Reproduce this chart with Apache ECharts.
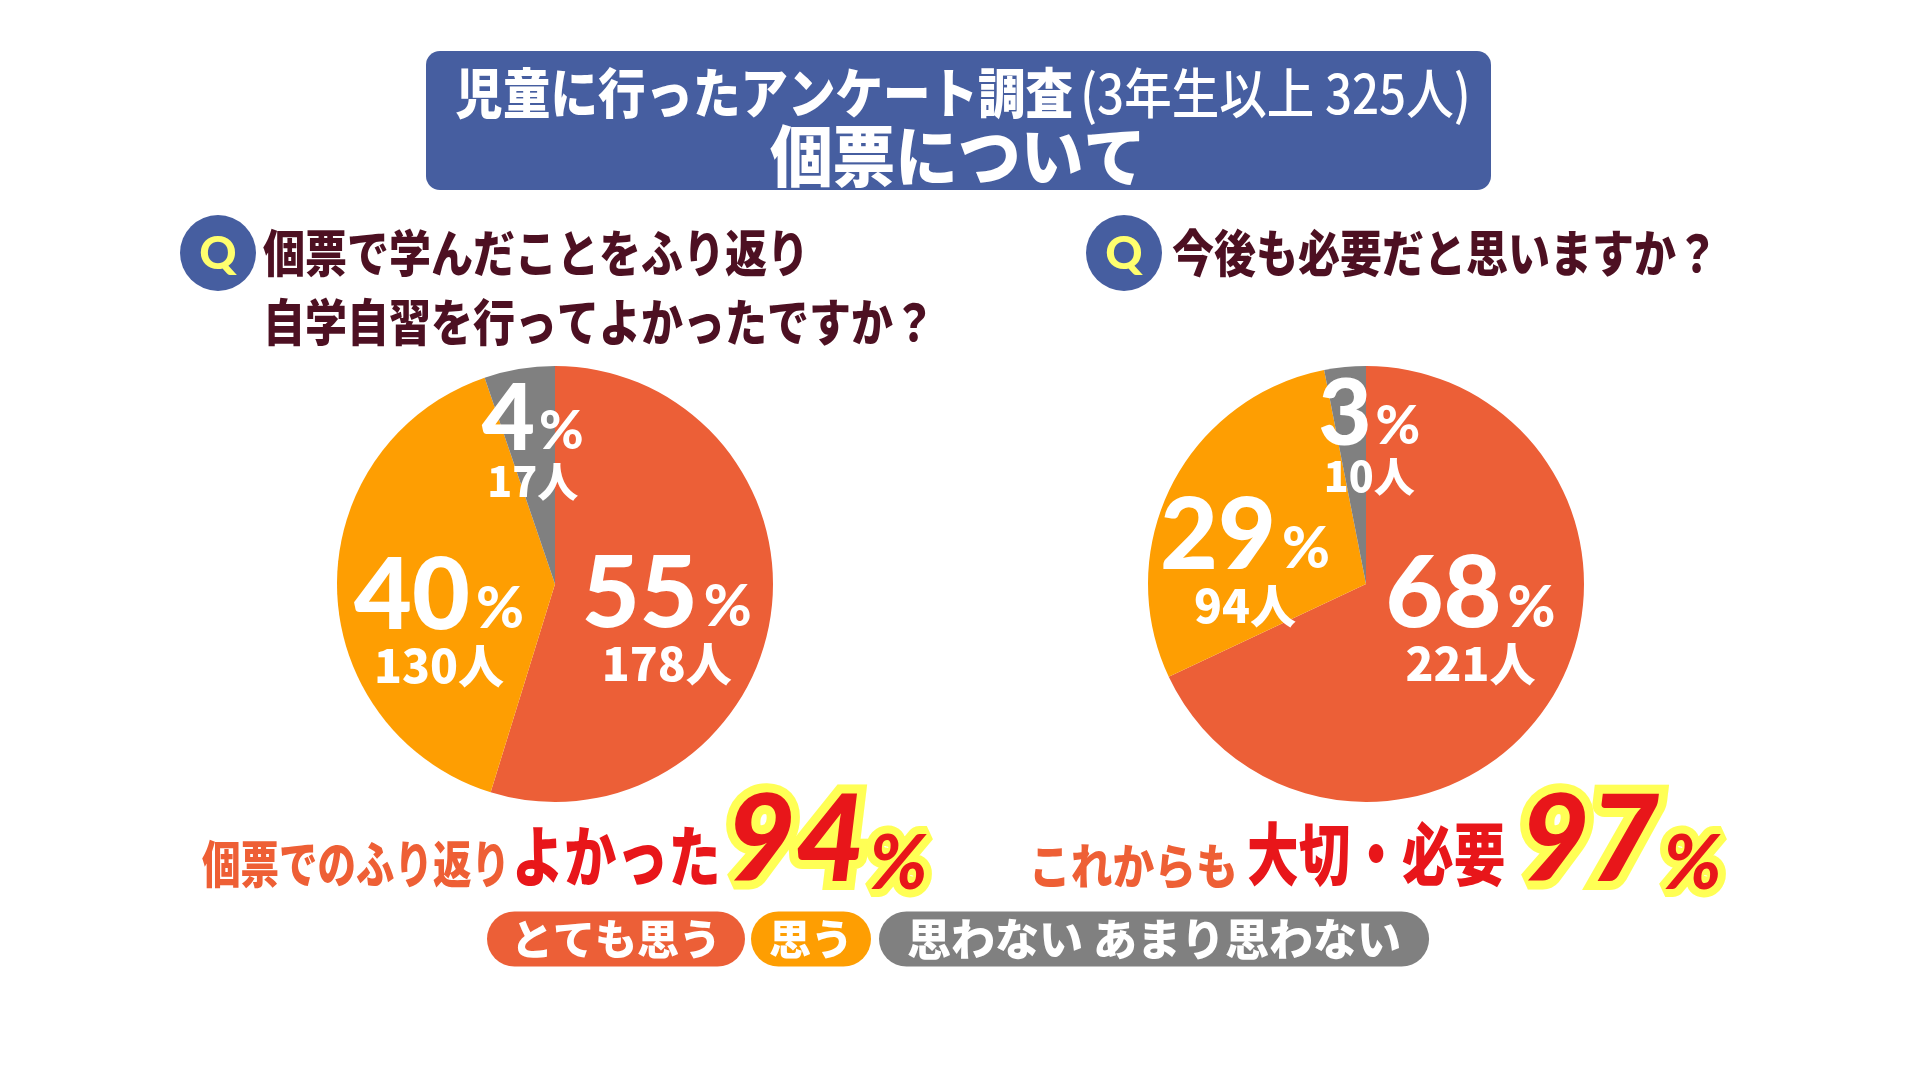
<!DOCTYPE html>
<html><head><meta charset="utf-8">
<script src="https://cdn.jsdelivr.net/npm/echarts@6/dist/echarts.min.js"></script>
<style>html,body{margin:0;padding:0;background:#fff;}#c{width:1920px;height:1080px;}</style>
</head><body><div id="c"></div>
<script>
// ---- data ----
const categories = ['とても思う', '思う', '思わない あまり思わない'];
const colors = ['#EC5F37', '#FE9E02', '#808080'];
const leftCounts = [178, 130, 17];
const leftPct = [55, 40, 4];
const rightCounts = [221, 94, 10];
const rightPct = [68, 29, 3];
const leftSummaryPct = 94;
const rightSummaryPct = 97;
const titleMain = '児童に行ったアンケート調査';
const titleSub = '(3年生以上 325人)';
const titleLine2 = '個票について';
const q1Lines = ['個票で学んだことをふり返り', '自学自習を行ってよかったですか？'];
const q2Lines = ['今後も必要だと思いますか？'];
const leftSumA = '個票でのふり返り';
const leftSumB = 'よかった';
const rightSumA = 'これからも';
const rightSumB = '大切・必要';

// ---- layout ----
const JP = '"Noto Sans CJK JP", sans-serif';
const NUM = 'Lato, "Noto Sans", sans-serif';
const leftOffsets = [[1, 21], [-4, 38], [-4, -30]];
const rightOffsets = [[10, -22], [-21, 30], [14, -34]];

function pieData(counts, offsets) {
  return counts.map((v, i) => ({
    name: categories[i], value: v,
    itemStyle: { color: colors[i] },
    label: { offset: offsets[i] }
  }));
}
function labelFmt(pcts) {
  return p => p.dataIndex === 2
    ? `{b2|${pcts[p.dataIndex]}}{p2|%}\n{s2|${p.value}人}`
    : `{b|${pcts[p.dataIndex]}}{p|%}\n{s|${p.value}人}`;
}
const rich = {
  b: { fontFamily: NUM, fontWeight: 900, fontSize: 100, color: '#fff', lineHeight: 84 },
  b2: { fontFamily: NUM, fontWeight: 900, fontSize: 92, color: '#fff', lineHeight: 76 },
  p: { fontFamily: NUM, fontWeight: 900, fontSize: 58, color: '#fff', lineHeight: 70, verticalAlign: 'bottom', padding: [0, 0, 0, 6] },
  p2: { fontFamily: NUM, fontWeight: 900, fontSize: 54, color: '#fff', lineHeight: 64, verticalAlign: 'bottom', padding: [0, 0, 0, 4] },
  s: { fontFamily: JP, fontWeight: 900, fontSize: 46, color: '#fff', lineHeight: 54 },
  s2: { fontFamily: JP, fontWeight: 900, fontSize: 41, color: '#fff', lineHeight: 46 }
};
function pieSeries(center, counts, pcts, offsets) {
  return {
    type: 'pie', center: center, radius: 218, startAngle: 90, clockwise: true,
    silent: true, animation: false, avoidLabelOverlap: false,
    labelLayout: { hideOverlap: false },
    label: { show: true, position: 'inside', formatter: labelFmt(pcts), rich: rich },
    labelLine: { show: false },
    itemStyle: { borderWidth: 0 },
    emphasis: { disabled: true },
    data: pieData(counts, offsets)
  };
}

function jpText(x, y, text, size, fill, scaleX, align) {
  return {
    type: 'text', x: x, y: y, scaleX: scaleX || 1,
    style: { text: text, fill: fill, fontFamily: JP, fontWeight: 900, fontSize: size,
      align: align || 'left', verticalAlign: 'middle' }
  };
}

const graphic = [];
// title box
graphic.push({ type: 'rect', shape: { x: 426, y: 51, width: 1065, height: 139, r: 14 }, style: { fill: '#465EA0' } });
graphic.push({
  type: 'text', x: 963, y: 93, scaleX: 0.88,
  style: {
    text: `{a|${titleMain}}{b|${titleSub}}`, align: 'center', verticalAlign: 'middle',
    rich: {
      a: { fontFamily: JP, fontWeight: 900, fontSize: 54, fill: '#fff' },
      b: { fontFamily: JP, fontWeight: 500, fontSize: 54, fill: '#fff', padding: [0, 0, 0, 8] }
    }
  }
});
graphic.push(jpText(958, 156, titleLine2, 66, '#fff', 0.95, 'center'));

// question markers
function qMark(cx, cy) {
  graphic.push({ type: 'circle', shape: { cx: cx, cy: cy, r: 38 }, style: { fill: '#465EA0' } });
  graphic.push({ type: 'text', x: cx, y: cy + 1, style: { text: 'Q', fill: '#FFFF6E', fontFamily: NUM, fontWeight: 900, fontSize: 46, align: 'center', verticalAlign: 'middle' } });
}
qMark(218, 253);
qMark(1124, 253);
const QCOL = '#4D1022';
graphic.push(jpText(263, 253, q1Lines[0], 50, QCOL, 0.84));
graphic.push(jpText(263, 322, q1Lines[1], 50, QCOL, 0.84));
graphic.push(jpText(1172, 253, q2Lines[0], 50, QCOL, 0.84));

// summaries
const ORG = '#EE5F35', RED = '#E8161A', YEL = '#FFFF55';
graphic.push(jpText(202, 864, leftSumA, 50, ORG, 0.77));
graphic.push(jpText(512, 856, leftSumB, 66, RED, 0.79));
function bigPct(x, val) {
  graphic.push({
    type: 'text', x: x, y: 902,
    style: {
      text: `{n|${val}}{p|%}`, align: 'left', verticalAlign: 'bottom',
      rich: {
        n: { fontFamily: NUM, fontWeight: 900, fontStyle: 'italic', fontSize: 120, fill: RED, stroke: YEL, lineWidth: 18, lineHeight: 100, verticalAlign: 'bottom' },
        p: { fontFamily: NUM, fontWeight: 900, fontStyle: 'italic', fontSize: 76, fill: RED, stroke: YEL, lineWidth: 16, lineHeight: 70, verticalAlign: 'bottom', padding: [0, 0, 0, 4] }
      }
    }
  });
}
bigPct(726, leftSummaryPct);
graphic.push(jpText(1029, 866, rightSumA, 48, ORG, 0.87));
graphic.push(jpText(1247, 854, rightSumB, 68, RED, 0.76));
bigPct(1520, rightSummaryPct);

// legend pills
const pillX = [487, 751, 879];
const pillPad = [24, 18, 28];
const pillFont = [42, 42, 44];
categories.forEach((c, i) => {
  graphic.push({
    type: 'text', x: pillX[i], y: 939,
    style: {
      text: c, fill: '#fff', fontFamily: JP, fontWeight: 900, fontSize: pillFont[i],
      align: 'left', verticalAlign: 'middle',
      backgroundColor: colors[i], borderRadius: 28,
      padding: [(55 - pillFont[i]) / 2, pillPad[i], (55 - pillFont[i]) / 2, pillPad[i]]
    }
  });
});

const chart = echarts.init(document.getElementById('c'), null, { renderer: 'canvas' });
chart.setOption({
  backgroundColor: '#fff',
  animation: false,
  series: [
    pieSeries([555, 584], leftCounts, leftPct, leftOffsets),
    pieSeries([1366, 584], rightCounts, rightPct, rightOffsets)
  ],
  graphic: graphic
});
</script></body></html>
